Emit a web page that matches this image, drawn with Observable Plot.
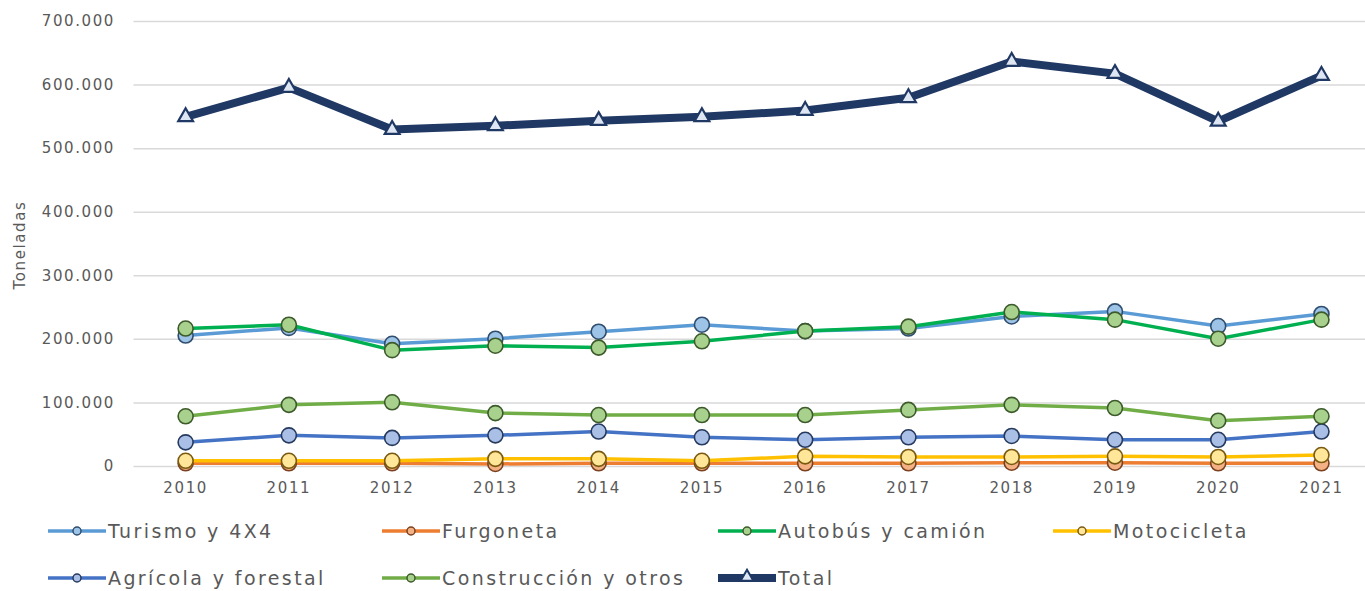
<!DOCTYPE html>
<html>
<head>
<meta charset="utf-8">
<script src="https://cdn.jsdelivr.net/npm/d3@7"></script>
<script src="https://cdn.jsdelivr.net/npm/@observablehq/plot@0.6"></script>
<style>
  html, body { margin: 0; padding: 0; background: #fff; }
  #chart svg { display: block; }
  .legend { position: relative; width: 1365px; height: 81px; font-family: "DejaVu Sans", sans-serif; font-size: 19px; letter-spacing: 2.4px; color: #595959; }
  .item { position: absolute; display: flex; align-items: center; white-space: nowrap; }
  .item svg { display: block; margin-right: 2px; }
</style>
</head>
<body>
<div id="chart"></div>
<div class="legend" id="legend"></div>
<script>
const years = [2010, 2011, 2012, 2013, 2014, 2015, 2016, 2017, 2018, 2019, 2020, 2021];
const turismo      = [206000, 218000, 193000, 201000, 212000, 223000, 213000, 217000, 236000, 244000, 221000, 240000];
const furgoneta    = [5000, 5000, 5000, 4000, 5000, 5000, 5000, 5000, 6000, 6000, 5000, 5000];
const autobus      = [217000, 223000, 183000, 190000, 187000, 197000, 213000, 220000, 243000, 231000, 201000, 231000];
const motocicleta  = [9000, 9000, 9000, 12000, 12000, 9000, 16000, 15000, 15000, 16000, 15000, 18000];
const agricola     = [38000, 49000, 45000, 49000, 55000, 46000, 42000, 46000, 48000, 42000, 42000, 55000];
const construccion = [79000, 97000, 101000, 84000, 81000, 81000, 81000, 89000, 97000, 92000, 72000, 79000];
const total        = [550000, 596000, 530000, 536000, 544000, 550000, 560000, 580000, 637000, 618000, 543000, 615000];
const seriesNames  = ["Turismo y 4X4", "Furgoneta", "Autobús y camión", "Motocicleta", "Agrícola y forestal", "Construcción y otros", "Total"];
const yTicks = [0, 100000, 200000, 300000, 400000, 500000, 600000, 700000];

const seriesValues = [turismo, furgoneta, autobus, motocicleta, agricola, construccion, total];
const lineColors = ["#5b9bd5", "#ed7d31", "#00b050", "#ffc000", "#4472c4", "#70ad47", "#203864"];
const fillColors = ["#9dc3e6", "#f4b183", "#a9d18e", "#ffe699", "#a9bfe6", "#a9d18e", "#dde6f2"];
const strokeColors = ["#2f4d6e", "#7a4020", "#3c5a2a", "#7a5a10", "#26395e", "#3c5a2a", "#203864"];

const series = seriesNames.map((name, i) => ({
  name,
  data: years.map((year, j) => ({year, value: seriesValues[i][j]})),
  line: lineColors[i], fill: fillColors[i], stroke: strokeColors[i]
}));

const fmt = d => d === 0 ? "0" : d3.format(",")(d).replace(/,/g, ".");

const marks = [
  Plot.ruleY(yTicks, {x1: 2009.5, x2: 2021.5, stroke: "#d9d9d9", strokeWidth: 1.5}),
  Plot.axisY({ticks: yTicks, tickSize: 0, tickPadding: 19, tickFormat: fmt, label: null, fontSize: 15, fill: "#595959"}),
  Plot.axisX({ticks: years, tickSize: 0, tickPadding: 16, tickFormat: d => String(d), label: null, fontSize: 15, fill: "#595959"}),
  Plot.text(["Toneladas"], {frameAnchor: "left", textAnchor: "middle", dx: -114, dy: 1, rotate: -90, fontSize: 15, fill: "#595959"})
];
series.forEach((s, i) => {
  const isTotal = s.name === "Total";
  marks.push(Plot.line(s.data, {x: "year", y: "value", stroke: s.line, strokeWidth: isTotal ? 8 : 3.5}));
  if (isTotal) {
    marks.push(Plot.dot(s.data, {x: "year", y: "value", symbol: "triangle", r: 5.5, fill: s.fill, stroke: s.stroke, strokeWidth: 2.2}));
  } else {
    marks.push(Plot.dot(s.data, {x: "year", y: "value", r: 7.5, fill: s.fill, stroke: s.stroke, strokeWidth: 1.6}));
  }
});

const chart = Plot.plot({
  width: 1365,
  height: 510,
  marginTop: 21,
  marginBottom: 44,
  marginLeft: 133.5,
  marginRight: 0,
  style: {fontFamily: "DejaVu Sans, sans-serif", letterSpacing: "1.6px", color: "#595959", background: "#fff"},
  x: {type: "linear", domain: [2009.5, 2021.5], range: [133.5, 1372.6]},
  y: {domain: [0, 700000], range: [466, 21]},
  marks
});
document.getElementById("chart").appendChild(chart);

// legend
const legendPos = [[48, 21], [382, 21], [718, 21], [1053, 21], [48, 68], [382, 68], [718, 68]];
const legend = document.getElementById("legend");
series.forEach((s, i) => {
  const isTotal = s.name === "Total";
  const item = document.createElement("div");
  item.className = "item";
  item.style.left = legendPos[i][0] + "px";
  item.style.top = (legendPos[i][1] - 14) + "px";
  item.style.height = "28px";
  const sw = d3.create("svg").attr("width", 58).attr("height", 28);
  sw.append("line").attr("x1", 0).attr("x2", 58).attr("y1", 14).attr("y2", 14)
    .attr("stroke", s.line).attr("stroke-width", isTotal ? 8 : 3.5).attr("stroke-linecap", isTotal ? "round" : "butt");
  if (isTotal) {
    sw.append("path").attr("d", d3.symbol(d3.symbolTriangle, 70)()).attr("transform", "translate(29,13)")
      .attr("fill", s.fill).attr("stroke", s.stroke).attr("stroke-width", 2);
  } else {
    sw.append("circle").attr("cx", 29).attr("cy", 14).attr("r", 4)
      .attr("fill", s.fill).attr("stroke", s.stroke).attr("stroke-width", 1.5);
  }
  item.appendChild(sw.node());
  const label = document.createElement("span");
  label.textContent = s.name;
  item.appendChild(label);
  legend.appendChild(item);
});
</script>
</body>
</html>
